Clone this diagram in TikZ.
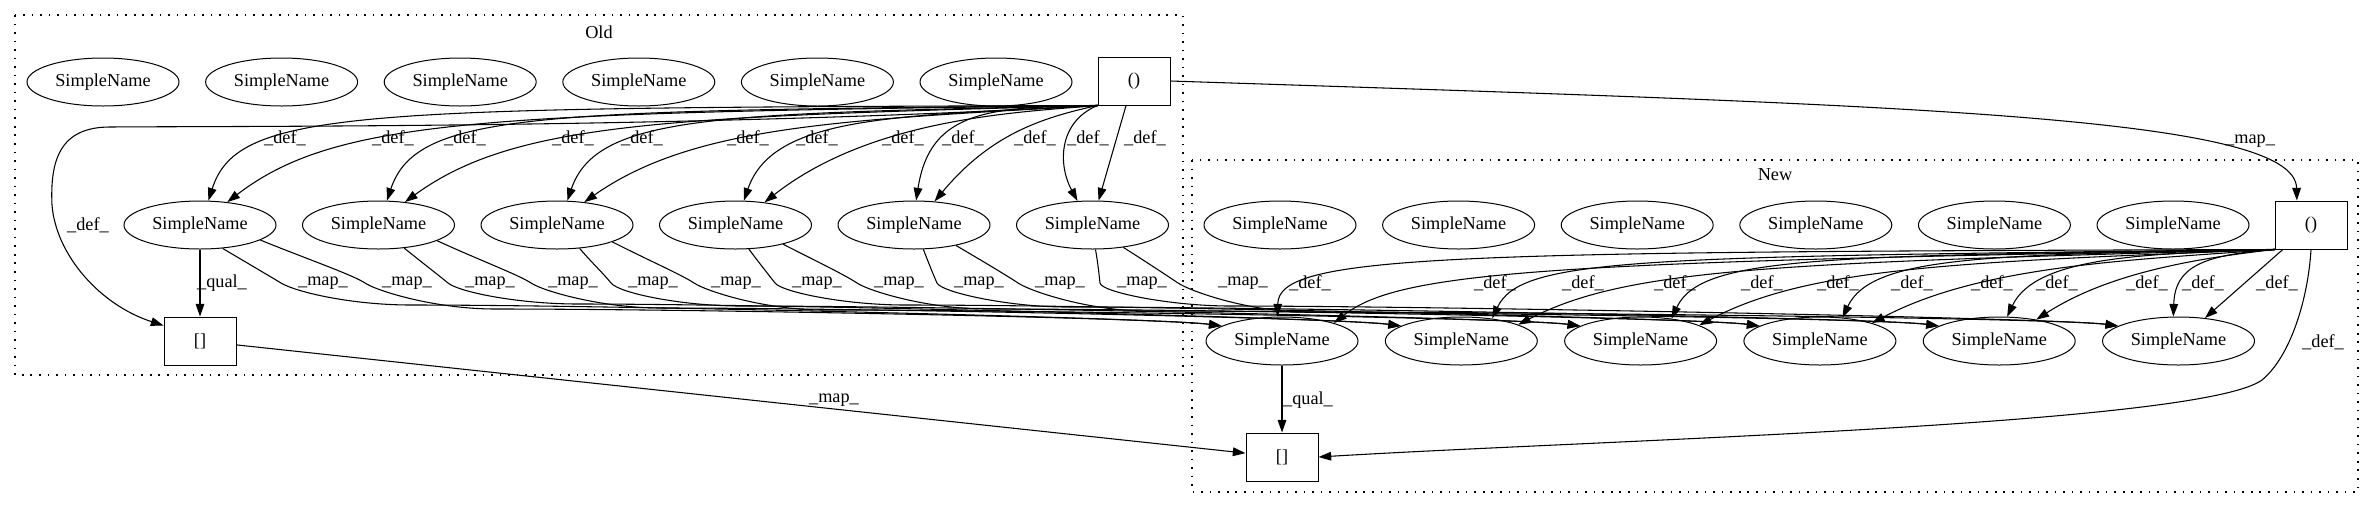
\documentclass[tikz,border=0pt]{standalone}
\usepackage{fontspec}
\setmainfont{Liberation Serif}
\usetikzlibrary{arrows.meta,shapes.geometric}

\tikzset{
  sname/.style={draw, ellipse, line width=0.75pt, minimum width=114pt, minimum height=36pt, inner sep=0pt},
  sbox/.style={draw, rectangle, line width=0.75pt, minimum width=54pt, minimum height=36pt, inner sep=0pt},
  flow/.style={->, line width=0.8pt},
  lbl/.style={inner sep=0pt},
  cluster/.style={draw, line width=0.8pt, dash pattern=on 1.2pt off 5.2pt}
}

\begin{document}
\begin{tikzpicture}[x=0.75pt, y=-0.75pt, font=\fontsize{13.7}{16}\selectfont, >={Triangle[length=9.5pt,width=6.5pt]}]
\useasboundingbox (0,0) rectangle (2373,508);

% clusters
\draw[cluster] (15,15) rectangle (1183,375);
\draw[cluster] (1192,160) rectangle (2358,492);
\node (oldtitle) at (599,32) {Old};
\node (newtitle) at (1775,175) {New};

% nodes
\foreach \i in {1,...,6} {
  \node[sname] (ot\i) at ({103+178.6*(\i-1)},82) {SimpleName};
  \node[sname] (o\i) at ({200+178.5*(\i-1)},225) {SimpleName};
  \node[sname] (nt\i) at ({1280+178.6*(\i-1)},225) {SimpleName};
  \node[sname] (n\i) at ({1282+179.3*(\i-1)},341) {SimpleName};
}
\node[sbox] (op) at (1134,81) {()};
\node[sbox] (ob) at (200,341) {[]};
\node[sbox] (np) at (2311,225) {()};
\node[sbox] (nb) at (1282,457) {[]};

% Old () to its SimpleNames
\foreach \ang/\ax/\ay/\bx/\by/\t in {71/358/108/238/108/1, 40/487/113/337/118/1,
    71/537/111/417/111/2, 41/665/117/515/122/2, 67/717/114/597/114/3, 40/844/120/694/125/3,
    71/893/116/773/116/4, 38/1023/112/873/117/4, 85/990/107/930/110/5, 49/1040/118/990/135/5,
    122/1058/122/1058/165/6}
  \draw[flow] (op.south west) .. controls (\ax,\ay) and (\bx,\by) .. (o\t.\ang);
\draw[flow] (op.-108) -- (o6.76);
\draw[flow] (op.south west) .. controls (700,128) and (250,126) .. (110,127)
  .. controls (60,127) and (50,160) .. (52,205) .. controls (56,255) and (100,305) .. (ob.157);
\draw[flow] (o1) -- (ob);

% New () to its SimpleNames
\foreach \ang/\ax/\ay/\bx/\by/\t in {100/1450/252/1278/254/1, 19/1560/262/1400/270/1,
    36/1641/257/1521/257/2, 16/1777/263/1627/268/2, 36/1821/256/1701/256/3, 15/1959/262/1809/267/3,
    46/1992/255/1872/255/4, 19/2132/260/1982/265/4, 72/2157/254/2037/254/5, 30/2200/258/2110/272/5,
    102/2200/255/2175/268/6}
  \draw[flow] (np.south west) .. controls (\ax,\ay) and (\bx,\by) .. (n\t.\ang);
\draw[flow] (np.-139) -- (n6.41);
\draw[flow] (np.south) .. controls (2308,300) and (2290,357) .. (2262,380)
  .. controls (2200,425) and (1600,440) .. (nb.east);
\draw[flow] (n1) -- (nb);

% map edges
\draw[flow] (op.east) .. controls (1900,105) and (2295,115) .. (np.120);
\draw[flow] (ob) -- (nb);
\foreach \i/\sa/\cx/\cy/\dx/\dy/\qx/\hy in {1/-46/249/264/15/9/281/305, 1/-14/307/259/12/8/365/309,
    2/-42/424/264/11/9/448/304, 2/-15/479/260/12/8/531/308, 3/-46/593/264/8/10/611/306, 3/-17/648/260/12/8/694/310,
    4/-61/760/264/7/9/775/305, 4/-22/816/261/12/8/857/309, 5/-69/929/264/4/9/937/307, 5/-26/984/262/12/8/1018/311,
    6/-83/1098/264/1/9/1100/306, 6/-36/1148/263/12/8/1178/312}
  \draw[flow] (o\i.\sa) .. controls (\cx,\cy) and +(-\dx,-\dy) .. (\qx,283)
    .. controls +(\dx,\dy) and +(-60,0) .. (\qx+130,\hy)
    .. controls +(200,0) and +(-60,-8) .. (n\i.166);

% labels
\node[lbl] (mapl) at (2250,141) {\_map\_};
\node[lbl] (bmapl) at (834,400) {\_map\_};
\node[lbl] (odefl) at (88,225) {\_def\_};
\node[lbl] (ndefl) at (2323,342) {\_def\_};
\node[lbl] (oqual) at (222,283) {\_qual\_};
\node[lbl] (nqual) at (1308,400) {\_qual\_};
\foreach \x [count=\k] in {285,393,465,573,642,748,817,903,963,1035,1088,1145}
  \node[lbl] (odl\k) at (\x,138) {\_def\_};
\foreach \x [count=\k] in {1310,1495,1583,1675,1762,1838,1912,1992,2057,2147,2203,2277}
  \node[lbl] (ndl\k) at (\x,283) {\_def\_};
\foreach \x [count=\k] in {323,407,490,573,653,736,817,899,979,1060,1142,1243}
  \node[lbl] (ml\k) at (\x,283) {\_map\_};
\end{tikzpicture}
\end{document}
